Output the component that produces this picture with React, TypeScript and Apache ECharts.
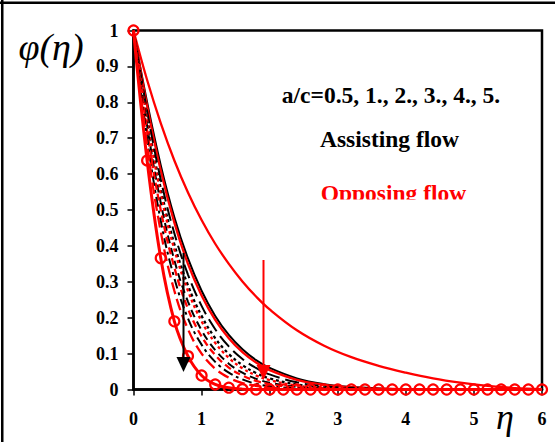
import React, { useEffect, useRef } from "react";
import * as echarts from "echarts";

const etaA = [0, 0.2, 0.4, 0.6, 0.8, 1, 1.2, 1.4, 1.6, 1.8, 2, 2.4, 2.8, 3.2, 4, 5, 6];
const blackSolid = [1, 0.8, 0.625, 0.48, 0.365, 0.275, 0.205, 0.152, 0.112, 0.082, 0.06, 0.031, 0.015, 0.007, 0.001, 0, 0];
const redSolid = [1, 0.79, 0.61, 0.465, 0.35, 0.262, 0.194, 0.143, 0.104, 0.075, 0.054, 0.027, 0.013, 0.006, 0.001, 0, 0];
const blackLongDash = [1, 0.775, 0.585, 0.435, 0.32, 0.233, 0.168, 0.12, 0.085, 0.06, 0.042, 0.02, 0.009, 0.004, 0, 0, 0];
const blackDotted = [1, 0.76, 0.56, 0.405, 0.29, 0.205, 0.143, 0.099, 0.068, 0.046, 0.031, 0.014, 0.006, 0.002, 0, 0, 0];
const redDotted = [1, 0.75, 0.545, 0.39, 0.275, 0.19, 0.13, 0.088, 0.059, 0.039, 0.026, 0.011, 0.004, 0.001, 0, 0, 0];
const blackDashed = [1, 0.735, 0.52, 0.36, 0.245, 0.165, 0.11, 0.072, 0.047, 0.03, 0.019, 0.007, 0.002, 0.001, 0, 0, 0];
const redDashed = [1, 0.72, 0.5, 0.34, 0.225, 0.148, 0.096, 0.061, 0.039, 0.024, 0.015, 0.005, 0.002, 0, 0, 0, 0];
const blackDashDot = [1, 0.7, 0.47, 0.31, 0.198, 0.125, 0.077, 0.047, 0.028, 0.016, 0.009, 0.003, 0.001, 0, 0, 0, 0];
const redLongDash = [1, 0.68, 0.44, 0.275, 0.168, 0.1, 0.058, 0.033, 0.018, 0.01, 0.005, 0.001, 0, 0, 0, 0, 0];

const etaC = [0, 0.2, 0.4, 0.6, 0.8, 1, 1.2, 1.4, 1.6, 1.8, 2, 2.2, 2.4, 2.6, 2.8, 3, 3.2, 3.4, 3.6, 3.8, 4, 4.2, 4.4, 4.6, 4.8, 5, 5.2, 5.4, 5.6, 5.8, 6];
const redCircles = [1, 0.638, 0.366, 0.19, 0.093, 0.039, 0.014, 0.005, 0.001, 0, 0, 0, 0, 0, 0, 0, 0, 0, 0, 0, 0, 0, 0, 0, 0, 0, 0, 0, 0, 0, 0];

const etaS = [0, 0.2, 0.4, 0.6, 0.8, 1, 1.2, 1.4, 1.6, 1.8, 2, 2.4, 2.8, 3.2, 3.6, 4, 4.4, 4.8, 5.2, 5.6, 6];
const redSlow = [1, 0.862, 0.742, 0.638, 0.549, 0.472, 0.406, 0.35, 0.301, 0.259, 0.223, 0.165, 0.122, 0.09, 0.066, 0.047, 0.031, 0.019, 0.01, 0.004, 0.001];

const xTicks = ["0", "1", "2", "3", "4", "5", "6"];

const SERIF = "'Liberation Serif', 'Times New Roman', serif";
const RED = "#ff0000";
const BLACK = "#000000";

function pairs(xs: number[], ys: number[]) {
  return xs.map((x, i) => [x, ys[i]]);
}

function lineSeries(xs: number[], ys: number[], color: string, width: number, type: any) {
  return {
    type: "line",
    data: pairs(xs, ys),
    showSymbol: false,
    symbol: "none",
    smooth: 0.4,
    lineStyle: { color, width, type },
    z: 3,
  };
}

function txt(x: number, y: number, text: string, size: number, opts: any = {}) {
  return {
    type: "text",
    x,
    y,
    z: 10,
    style: {
      text,
      fontFamily: SERIF,
      fontSize: size,
      fontWeight: opts.weight || "normal",
      fontStyle: opts.style || "normal",
      fill: opts.color || BLACK,
      verticalAlign: "middle",
      align: opts.align || "left",
    },
  };
}

export default function App() {
  const ref = useRef<HTMLDivElement>(null);
  useEffect(() => {
    if (!ref.current) return;
    const chart = echarts.init(ref.current, null, { renderer: "svg" });
    const option: any = {
      animation: false,
      backgroundColor: "#ffffff",
      grid: {
        left: 133.5,
        right: 13,
        top: 30.5,
        bottom: 52.5,
        show: true,
        borderColor: BLACK,
        borderWidth: 2.5,
      },
      xAxis: {
        type: "value",
        min: 0,
        max: 6,
        interval: 1,
        splitLine: { show: false },
        axisLine: { show: true, lineStyle: { color: BLACK, width: 2.5 } },
        axisTick: { show: true, inside: false, length: 6, lineStyle: { color: BLACK, width: 1.5 } },
        axisLabel: {
          margin: 20,
          fontFamily: SERIF,
          fontWeight: "bold",
          fontSize: 18,
          color: BLACK,
          formatter: (v: number) => xTicks[Math.round(v)] ?? "",
        },
      },
      yAxis: {
        type: "value",
        min: 0,
        max: 1,
        interval: 0.1,
        splitLine: { show: false },
        axisLine: { show: true, lineStyle: { color: BLACK, width: 2.5 } },
        axisTick: { show: true, inside: false, length: 6, lineStyle: { color: BLACK, width: 1.5 } },
        axisLabel: {
          margin: 15,
          fontFamily: SERIF,
          fontWeight: "bold",
          fontSize: 18,
          color: BLACK,
        },
      },
      series: [
        lineSeries(etaS, redSlow, RED, 2.3, "solid"),
        lineSeries(etaA, blackSolid, BLACK, 2, "solid"),
        lineSeries(etaA, redSolid, RED, 2.3, "solid"),
        lineSeries(etaA, blackLongDash, BLACK, 2, [14, 6]),
        lineSeries(etaA, blackDotted, BLACK, 2.3, [3, 3]),
        lineSeries(etaA, redDotted, RED, 2.3, [3, 3]),
        lineSeries(etaA, blackDashed, BLACK, 2, [8, 5]),
        lineSeries(etaA, redDashed, RED, 2.3, [7, 4]),
        lineSeries(etaA, blackDashDot, BLACK, 2, [10, 4, 3, 4]),
        lineSeries(etaA, redLongDash, RED, 2.3, [12, 5]),
        {
          type: "line",
          data: pairs(etaC, redCircles),
          smooth: 0.4,
          symbol: "circle",
          symbolSize: 10,
          showSymbol: true,
          lineStyle: { color: RED, width: 3 },
          itemStyle: { color: "rgba(255,255,255,0)", borderColor: RED, borderWidth: 2.2 },
          z: 5,
        },
      ],
      graphic: [
        { type: "rect", shape: { x: 0, y: 1.5, width: 555, height: 2.5 }, style: { fill: BLACK }, z: 10 },
        { type: "rect", shape: { x: 1, y: 0, width: 2.5, height: 442 }, style: { fill: BLACK }, z: 10 },
        txt(51, 47, "φ(η)", 38, { style: "italic", align: "center" }),
        txt(496, 417, "η", 36, { style: "italic" }),
        txt(391, 95, "a/c=0.5, 1., 2., 3., 4., 5.", 23.5, { weight: "bold", align: "center" }),
        txt(389.5, 139, "Assisting flow", 23.5, { weight: "bold", align: "center" }),
        txt(393.5, 192.7, "Opposing flow", 23.5, { weight: "bold", align: "center", color: RED }),
        { type: "rect", shape: { x: 300, y: 199.5, width: 190, height: 14 }, style: { fill: "#ffffff" }, z: 11 },
        { type: "line", shape: { x1: 183.5, y1: 253, x2: 183.5, y2: 360 }, style: { stroke: BLACK, lineWidth: 2 }, z: 12 },
        { type: "polygon", shape: { points: [[176.5, 357], [190.5, 357], [183.5, 372]] }, style: { fill: BLACK }, z: 12 },
        { type: "line", shape: { x1: 263.5, y1: 260, x2: 263.5, y2: 368 }, style: { stroke: RED, lineWidth: 2 }, z: 12 },
        { type: "polygon", shape: { points: [[256.5, 365], [270.5, 365], [263.5, 380]] }, style: { fill: RED }, z: 12 },
      ],
    };
    chart.setOption(option);
    return () => chart.dispose();
  }, []);
  return <div ref={ref} style={{ position: "absolute", left: 0, top: 0, width: 555, height: 442 }} />;
}
